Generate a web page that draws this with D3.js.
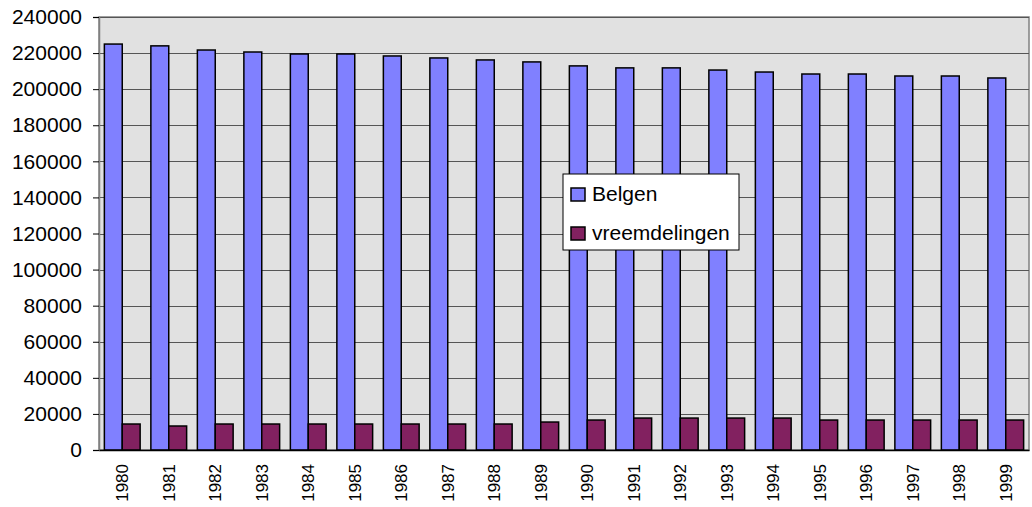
<!DOCTYPE html>
<html>
<head>
<meta charset="utf-8">
<script src="https://cdn.jsdelivr.net/npm/d3@7"></script>
<style>
  body { margin: 0; background: #fff; }
  svg { display: block; font-family: Arial, "Liberation Sans", sans-serif; }
</style>
</head>
<body>
<svg width="1032" height="507"></svg>
<script>
// years on the x axis
const years = ['1980','1981','1982','1983','1984','1985','1986','1987','1988','1989',
               '1990','1991','1992','1993','1994','1995','1996','1997','1998','1999'];
// series
const belgen = [225000, 224000, 221700, 220600, 219500, 219500, 218400, 217300, 216200, 215100,
                212900, 211800, 211800, 210600, 209500, 208400, 208400, 207300, 207300, 206200];
const vreemdelingen = [14400, 13300, 14400, 14400, 14400, 14400, 14400, 14400, 14400, 15500,
                       16600, 17700, 17700, 17700, 17700, 16600, 16600, 16600, 16600, 16600];
const seriesNames = ['Belgen', 'vreemdelingen'];
const seriesColors = ['#8080ff', '#822160'];
const yTicks = d3.range(0, 240001, 20000);

const plotLeft = 99, plotRight = 1029, plotTop = 17, plotBottom = 450;

const svg = d3.select('svg');

const x = d3.scaleBand().domain(years).range([plotLeft, plotRight]).paddingInner(0).paddingOuter(0);
const x1 = d3.scaleBand().domain(seriesNames).range([0, x.bandwidth()]).paddingOuter(0.3).paddingInner(0);
const y = d3.scaleLinear().domain([0, 240000]).range([plotBottom, plotTop]);

// plot background
svg.append('rect')
  .attr('x', plotLeft).attr('y', plotTop)
  .attr('width', plotRight - plotLeft).attr('height', plotBottom - plotTop)
  .attr('fill', '#e1e1e1')
  .attr('stroke', '#808080').attr('stroke-width', 1.5);

// gridlines
svg.append('g')
  .selectAll('line')
  .data(yTicks.slice(1))
  .enter()
  .append('line')
  .attr('x1', plotLeft).attr('x2', plotRight)
  .attr('y1', d => Math.round(y(d)) + 0.5).attr('y2', d => Math.round(y(d)) + 0.5)
  .attr('stroke', '#555');

// bars
const data = years.map((yr, i) => ({year: yr, values: [belgen[i], vreemdelingen[i]]}));
svg.append('g')
  .selectAll('g')
  .data(data)
  .enter()
  .append('g')
  .attr('transform', d => `translate(${x(d.year)},0)`)
  .selectAll('rect')
  .data(d => d.values.map((v, k) => ({name: seriesNames[k], value: v, k})))
  .enter()
  .append('rect')
  .attr('x', d => x1(d.name))
  .attr('y', d => y(d.value))
  .attr('width', x1.bandwidth())
  .attr('height', d => y(0) - y(d.value))
  .attr('fill', d => seriesColors[d.k])
  .attr('stroke', '#000')
  .attr('stroke-width', 1.5);

// y axis
const yAxis = svg.append('g')
  .attr('transform', `translate(${plotLeft},0)`)
  .call(d3.axisLeft(y).tickValues(yTicks).tickFormat(d3.format('d')).tickSize(6).tickPadding(11));
yAxis.select('.domain').attr('stroke', '#808080').attr('stroke-width', 1.5);
yAxis.selectAll('.tick line').attr('stroke', '#000');
yAxis.selectAll('text').attr('font-size', 21).attr('fill', '#000')
  .attr('font-family', 'Arial, "Liberation Sans", sans-serif');

// x axis
const xAxis = svg.append('g')
  .attr('transform', `translate(0,${plotBottom})`)
  .call(d3.axisBottom(x).tickSize(0).tickPadding(0));
xAxis.select('.domain').attr('stroke', '#000').attr('stroke-width', 1.5);
xAxis.selectAll('text')
  .attr('font-size', 17)
  .attr('fill', '#000')
  .attr('font-family', 'Arial, "Liberation Sans", sans-serif')
  .attr('text-anchor', 'end')
  .attr('transform', 'translate(0,14) rotate(-90)')
  .attr('dy', '0.35em')
  .attr('y', 0);

// legend
const legend = svg.append('g').attr('transform', 'translate(563,174)');
legend.append('rect')
  .attr('width', 176).attr('height', 76)
  .attr('fill', '#fff').attr('stroke', '#000');
const items = legend.selectAll('g.item')
  .data(seriesNames)
  .enter()
  .append('g')
  .classed('item', true)
  .attr('transform', (d, i) => `translate(0,${14 + i * 39})`);
items.append('rect')
  .attr('x', 8).attr('y', 0)
  .attr('width', 14).attr('height', 13)
  .attr('fill', (d, i) => seriesColors[i])
  .attr('stroke', '#000').attr('stroke-width', 1.5);
items.append('text')
  .attr('x', 29).attr('y', 13)
  .attr('font-size', 21)
  .attr('fill', '#000')
  .text(d => d);
</script>
</body>
</html>
